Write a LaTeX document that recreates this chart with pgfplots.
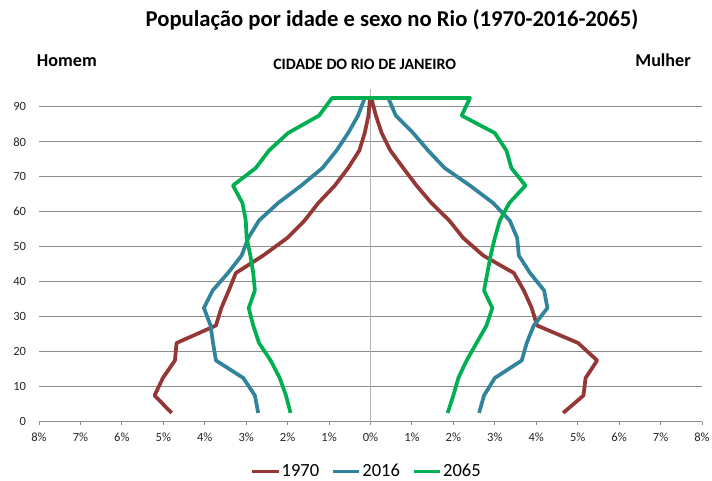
\documentclass[border=0pt]{standalone}
\usepackage{fontspec}
\setmainfont{Carlito}
\usepackage{pgfplots}
\pgfplotsset{compat=1.18}
\definecolor{c1970}{HTML}{953735}
\definecolor{c2016}{HTML}{31849B}
\definecolor{c2065}{HTML}{00B050}
\definecolor{gridc}{HTML}{8C8C8C}
\definecolor{zeroc}{HTML}{B4B4B4}
\begin{document}
\begin{tikzpicture}[x=0.75pt,y=0.75pt]
\useasboundingbox (0,0) rectangle (712,480);
\begin{axis}[
  at={(29.25pt,43.725pt)}, anchor=south west, scale only axis,
  width=497.25pt, height=249.3pt,
  xmin=-8, xmax=8, ymin=0, ymax=95,
  xtick={-8,-7,...,8},
  xticklabels={8\%,7\%,6\%,5\%,4\%,3\%,2\%,1\%,0\%,1\%,2\%,3\%,4\%,5\%,6\%,7\%,8\%},
  ytick={0,10,...,90},
  ymajorgrids, grid style={gridc, line width=0.75pt},
  axis x line*=bottom, axis y line*=left,
  y axis line style={draw=none},
  x axis line style={gridc, line width=0.75pt, -},
  xtick style={gridc, line width=0.75pt},
  ytick style={draw=none},
  tick align=outside, major tick length=2.5pt,
  extra x ticks={0}, extra x tick labels={},
  extra x tick style={grid=major, major grid style={zeroc, line width=0.75pt}},
  /pgf/number format/assume math mode=true,
  ticklabel style={font=\fontsize{9.4}{11}\selectfont, text=black!85},
  yticklabel style={inner sep=0pt, xshift=-7pt},
  xticklabel style={inner sep=0pt, yshift=-6pt},
  every axis plot/.append style={line width=2.8pt, line join=round, no markers},
  legend columns=3,
  legend style={at={(0.4932,-0.15)}, anchor=center, draw=none, fill=none,
    font=\fontsize{13.9}{16}\selectfont,
    nodes={inner sep=0.8pt},
    /tikz/every even column/.append style={column sep=8pt}},
  legend image code/.code={\draw[#1, line width=2.8pt] (0pt,0pt) -- (20pt,0pt);},
]
\addplot[c1970] coordinates {
(-4.80,2.5) (-5.21,7.5) (-5.01,12.5) (-4.72,17.5) (-4.68,22.5) (-3.73,27.5) (-3.60,32.5) (-3.42,37.5) (-3.25,42.5) (-2.59,47.5) (-2.01,52.5) (-1.59,57.5) (-1.26,62.5) (-0.86,67.5) (-0.54,72.5) (-0.27,77.5) (-0.14,82.5) (-0.05,87.5) (-0.01,92.5)
(0.02,92.5) (0.13,87.5) (0.27,82.5) (0.48,77.5) (0.79,72.5) (1.11,67.5) (1.47,62.5) (1.90,57.5) (2.24,52.5) (2.72,47.5) (3.46,42.5) (3.70,37.5) (3.89,32.5) (4.02,27.5) (5.01,22.5) (5.47,17.5) (5.19,12.5) (5.14,7.5) (4.65,2.5)
};
\addlegendentry{1970}
\addplot[c2016] coordinates {
(-2.71,2.5) (-2.79,7.5) (-3.07,12.5) (-3.73,17.5) (-3.80,22.5) (-3.86,27.5) (-4.02,32.5) (-3.81,37.5) (-3.44,42.5) (-3.11,47.5) (-2.95,52.5) (-2.69,57.5) (-2.23,62.5) (-1.67,67.5) (-1.16,72.5) (-0.82,77.5) (-0.54,82.5) (-0.30,87.5) (-0.14,92.5)
(0.43,92.5) (0.61,87.5) (1.03,82.5) (1.39,77.5) (1.79,72.5) (2.40,67.5) (2.96,62.5) (3.36,57.5) (3.54,52.5) (3.58,47.5) (3.85,42.5) (4.19,37.5) (4.27,32.5) (3.94,27.5) (3.77,22.5) (3.65,17.5) (3.00,12.5) (2.74,7.5) (2.62,2.5)
};
\addlegendentry{2016}
\addplot[c2065] coordinates {
(-1.93,2.5) (-2.04,7.5) (-2.19,12.5) (-2.41,17.5) (-2.69,22.5) (-2.83,27.5) (-2.94,32.5) (-2.79,37.5) (-2.83,42.5) (-2.90,47.5) (-2.99,52.5) (-3.01,57.5) (-3.09,62.5) (-3.32,67.5) (-2.77,72.5) (-2.45,77.5) (-1.99,82.5) (-1.24,87.5) (-0.93,92.5)
(2.40,92.5) (2.20,87.5) (3.00,82.5) (3.28,77.5) (3.40,72.5) (3.74,67.5) (3.35,62.5) (3.12,57.5) (3.00,52.5) (2.90,47.5) (2.82,42.5) (2.74,37.5) (2.94,32.5) (2.80,27.5) (2.56,22.5) (2.32,17.5) (2.12,12.5) (2.00,7.5) (1.86,2.5)
};
\addlegendentry{2065}
\end{axis}
\node[anchor=base, inner sep=0pt, font=\bfseries\fontsize{17}{20}\selectfont] at (392,453.3) {População por idade e sexo no Rio (1970-2016-2065)};
\node[anchor=base west, inner sep=0pt, font=\bfseries\fontsize{13.6}{16}\selectfont] at (36.7,414) {Homem};
\node[anchor=base east, inner sep=0pt, font=\bfseries\fontsize{13.6}{16}\selectfont] at (691,414) {Mulher};
\node[anchor=base, inner sep=0pt, font=\bfseries\fontsize{11.9}{14}\selectfont] at (364.7,410.7) {CIDADE DO RIO DE JANEIRO};
\end{tikzpicture}
\end{document}
